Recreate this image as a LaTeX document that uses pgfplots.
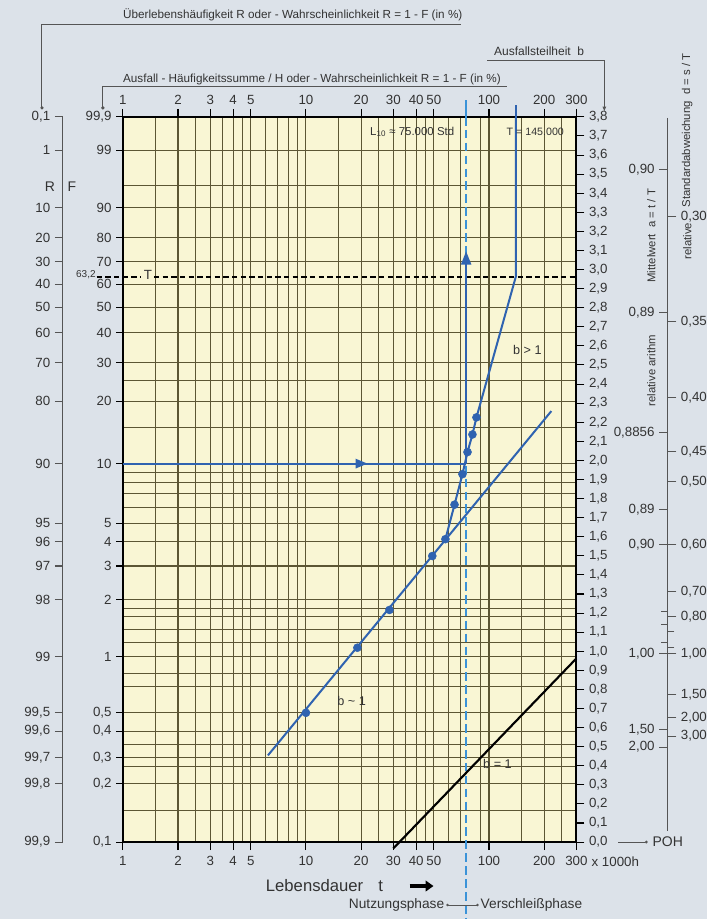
\documentclass[border=0pt]{standalone}
\usepackage{fontspec}
\setmainfont{Liberation Sans}
\usepackage{pgfplots}
\pgfplotsset{compat=1.18}
\usetikzlibrary{arrows.meta}
\definecolor{bgc}{HTML}{DCE2E9}
\definecolor{paper}{HTML}{F9F6D4}
\definecolor{gridc}{HTML}{5C5634}
\definecolor{blu}{HTML}{2F63B0}
\definecolor{lblu}{HTML}{3B93D8}
\definecolor{txt}{HTML}{333333}
\definecolor{linec}{HTML}{555555}
\newcommand\myfs[1]{\fontsize{#1}{#1}\selectfont}
\pgfplotsset{
  weib/.style={
    y coord trafo/.code={\pgfmathparse{ln(-ln(1-##1/100))}},
    y coord inv trafo/.code={\pgfmathparse{100*(1-exp(-exp(##1)))}},
  },
}
\begin{document}
\begin{tikzpicture}[x=0.75pt,y=0.75pt]
\fill[bgc] (0,0) rectangle (708,920);
% ---------------- main Weibull paper ----------------
\begin{axis}[
  at={(92.25pt,57.75pt)}, anchor=south west,
  scale only axis, width=340.5pt, height=544.5pt,
  xmode=log, xmin=1, xmax=300,
  weib, ymin=0.1, ymax=99.9,
  axis background/.style={fill=paper},
  clip=false,
  xtick={1,1.5,2,2.5,3,3.5,4,4.5,5,6,7,8,9,10,15,20,25,30,35,40,45,50,60,70,90,100,150,200,250,300},
  xticklabels={},
  ytick={0.1,0.15,0.2,0.25,0.3,0.35,0.4,0.5,0.7,0.8,1,1.2,1.4,1.6,1.8,2,3,4,5,6,7,8,9,10,15,20,25,30,40,50,60,70,80,90,95,99,99.9},
  yticklabels={},
  grid=major,
  major grid style={draw=gridc, line width=0.8pt},
  major tick length=0pt, minor tick length=0pt,
  ytick pos=left,
  extra x ticks={1,2,3,4,5,10,20,30,40,50,100,200,300},
  extra x tick labels={},
  extra x tick style={grid=none, major tick length=6pt, tick align=outside, tick style={draw=black, line width=0.8pt}},
  extra y ticks={0.1,0.2,0.3,0.4,0.5,1,2,3,4,5,10,20,30,40,50,60,70,80,90,99,99.9},
  extra y tick labels={{0,1},{0,2},{0,3},{0,4},{0,5},1,2,3,4,5,10,20,30,40,50,60,70,80,90,99,{99,9}},
  extra y tick style={grid=none, major tick length=5pt, tick align=outside, tick style={draw=black, line width=0.8pt}},
  axis line style={black, line width=1.6pt},
  tick label style={font=\myfs{10}, text=txt},
]
% characteristic life T (63,2 %)
\draw[black, line width=0.9pt, dash pattern=on 4pt off 2.5pt] (axis cs:0.72,63.2) -- (axis cs:1.26,63.2);
\draw[black, line width=0.9pt, dash pattern=on 4pt off 2.5pt] (axis cs:1.48,63.2) -- (axis cs:300,63.2);
% L10 line (dashed, light blue)
\draw[lblu, line width=2pt] (axis cs:75,99.9) -- ++(0pt,13pt);
\draw[lblu, line width=2pt, dash pattern=on 6.5pt off 3.2pt] (axis cs:75,99.9) -- ++(0pt,-602pt);
% b = 1 reference line
\addplot[black, line width=1.6pt] coordinates {(30,0.1) (300,1)};
% b ~ 1 fitted line and points
\addplot[blu, line width=1.5pt] coordinates {(6.2,0.31) (219,18)};
\addplot[blu, only marks, mark=*, mark size=3pt] coordinates {(10,0.52) (19.1,1.14) (28.6,1.79) (49,3.4) (57.8,4.15)};
% b > 1 branch
\addplot[blu, line width=1.5pt] coordinates {(57.8,4.15) (64.8,6.22) (71.6,8.86) (76.3,11.4) (81.2,13.9) (85.4,16.8) (140,63.2) (140,99.9)};
\addplot[blu, only marks, mark=*, mark size=3pt] coordinates {(64.8,6.22) (71.6,8.86) (76.3,11.4) (81.2,13.9) (85.4,16.8)};
\draw[blu, line width=1.5pt] (axis cs:140,99.9) -- ++(0pt,9pt);
% reading arrows F = 10 % -> L10
\addplot[blu, line width=1.5pt] coordinates {(1,10) (75,10)};
\addplot[blu, line width=1.5pt, -{Triangle[length=9pt,width=7pt]}] coordinates {(1,10) (21.7,10)};
\addplot[blu, line width=1.5pt, -{Triangle[length=10pt,width=7.5pt]}] coordinates {(75,10) (75,74.4)};
% x tick labels top and bottom
\pgfplotsinvokeforeach{1,2,3,4,5,10,20,30,40,50,100,200,300}{
  \node[font=\myfs{10}, text=txt, yshift=-14pt] at (axis cs:#1,0.1) {#1};
  \node[font=\myfs{10}, text=txt, yshift=13pt] at (axis cs:#1,99.9) {#1};
}
\end{axis}
% ---------------- Ausfallsteilheit b (right) ----------------
\begin{axis}[
  at={(92.25pt,57.75pt)}, anchor=south west,
  scale only axis, width=340.5pt, height=544.5pt,
  xmin=0, xmax=1, ymin=0, ymax=3.8,
  hide x axis, axis y line*=right,
  ytick={0,0.1,0.2,0.3,0.4,0.5,0.6,0.7,0.8,0.9,1,1.1,1.2,1.3,1.4,1.5,1.6,1.7,1.8,1.9,2,2.1,2.2,2.3,2.4,2.5,2.6,2.7,2.8,2.9,3,3.1,3.2,3.3,3.4,3.5,3.6,3.7,3.8},
  yticklabels={{0,0},{0,1},{0,2},{0,3},{0,4},{0,5},{0,6},{0,7},{0,8},{0,9},{1,0},{1,1},{1,2},{1,3},{1,4},{1,5},{1,6},{1,7},{1,8},{1,9},{2,0},{2,1},{2,2},{2,3},{2,4},{2,5},{2,6},{2,7},{2,8},{2,9},{3,0},{3,1},{3,2},{3,3},{3,4},{3,5},{3,6},{3,7},{3,8}},
  tick align=outside, major tick length=6pt,
  tick style={draw=black, line width=0.8pt},
  y axis line style={black, line width=1.6pt},
  tick label style={font=\myfs{10}, text=txt},
]
\addplot[draw=none] coordinates {(0.5,1)};
\end{axis}
% ---------------- R scale (left) ----------------
\begin{axis}[
  at={(47.25pt,57.75pt)}, anchor=south west,
  scale only axis, width=0.75pt, height=544.5pt,
  xmin=0, xmax=1, weib, ymin=0.1, ymax=99.9,
  hide x axis, axis y line*=left,
  ytick={0.1,0.2,0.3,0.4,0.5,1,2,3,4,5,10,20,30,40,50,60,70,80,90,99,99.9},
  yticklabels={{99,9},{99,8},{99,7},{99,6},{99,5},99,98,97,96,95,90,80,70,60,50,40,30,20,10,1,{0,1}},
  tick align=outside, major tick length=6pt,
  tick style={draw=linec, line width=0.8pt},
  y axis line style={draw=linec, line width=0.8pt},
  tick label style={font=\myfs{10}, text=txt},
]
\addplot[draw=none] coordinates {(0.5,50)};
\end{axis}
% ---------------- a = t/T scale ----------------
\begin{axis}[
  at={(501pt,66pt)}, anchor=south west,
  scale only axis, width=0.75pt, height=535.5pt,
  xmin=0, xmax=1, ymin=118, ymax=832, y dir=reverse,
  hide x axis, axis y line*=left,
  ytick={170,313,433,510,545,654,730,748},
  yticklabels={{0,90},{0,89},{0,8856},{0,89},{0,90},{1,00},{1,50},{2,00}},
  extra y ticks={612,625,643}, extra y tick labels={},
  extra y tick style={major tick length=4.5pt},
  tick align=outside, major tick length=6pt,
  tick style={draw=linec, line width=0.8pt},
  y axis line style={draw=linec, line width=0.8pt},
  tick label style={font=\myfs{10}, text=txt},
]
\addplot[draw=none] coordinates {(0.5,400)};
\end{axis}
% ---------------- d = s/T scale ----------------
\begin{axis}[
  at={(501pt,66pt)}, anchor=south west,
  scale only axis, width=0.75pt, height=535.5pt,
  xmin=0, xmax=1, ymin=118, ymax=832, y dir=reverse,
  hide x axis, axis y line*=right,
  ytick={217,322,398,452,482,545,592,617,654,695,718,737},
  yticklabels={{0,30},{0,35},{0,40},{0,45},{0,50},{0,60},{0,70},{0,80},{1,00},{1,50},{2,00},{3,00}},
  extra y ticks={632,648}, extra y tick labels={},
  extra y tick style={major tick length=4.5pt},
  tick align=outside, major tick length=6pt,
  tick style={draw=linec, line width=0.8pt},
  y axis line style={draw=none},
  tick label style={font=\myfs{10}, text=txt},
]
\addplot[draw=none] coordinates {(0.5,400)};
\end{axis}
% ---------------- annotations ----------------
\begin{scope}[every node/.style={text=txt, inner sep=0pt}]
% header brackets
\node[anchor=base west, font=\myfs{8.8}] at (123,901) {Überlebenshäufigkeit R oder - Wahrscheinlichkeit R = 1 - F (in \%)};
\draw[linec, line width=0.7pt] (42,812) -- (42,895) -- (462,895);
\fill[linec] (42,812) circle (1.8);
\node[anchor=base west, font=\myfs{8.8}] at (123,837) {Ausfall - Häufigkeitssumme / H oder - Wahrscheinlichkeit R = 1 - F (in \%)};
\draw[linec, line width=0.7pt] (103,812) -- (103,833) -- (508,833);
\fill[linec] (103,812) circle (1.8);
\node[anchor=base east, font=\myfs{9}] at (585,864) {Ausfallsteilheit\ \ b};
\draw[linec, line width=0.7pt, -{Latex[length=4pt,width=3pt]}] (488,859) -- (605,859) -- (605,808);
% left scale captions
\node[font=\myfs{10.5}] at (50,733) {R};
\node[font=\myfs{10.5}] at (72,733) {F};
\node[anchor=east, font=\myfs{7.5}] at (96,645) {63,2};
\node[font=\myfs{10}] at (148,645) {T};
% texts inside the paper
\node[anchor=east, font=\myfs{8.6}] at (455,788) {L\textsubscript{10} ≈ 75.000 Std};
\node[anchor=west, font=\myfs{8}] at (507,788) {T = 145.000};
\node[font=\myfs{9.5}] at (528,570) {b > 1};
\node[font=\myfs{9.5}] at (352,218) {b \textasciitilde{} 1};
\node[font=\myfs{9.5}] at (498,155) {b = 1};
% right scale captions
\node[rotate=90, font=\myfs{8.5}] at (652,684) {Mittelwert\ \ a = t / T};
\node[rotate=90, font=\myfs{8.5}] at (652,549) {relative arithm};
\node[rotate=90, anchor=east, font=\myfs{8.5}] at (688,697) {relative};
\node[rotate=90, anchor=west, font=\myfs{8.5}] at (688,712) {Standardabweichung\ \ d = s / T};
% POH
\draw[linec, line width=0.7pt] (619,77) -- (646,77);
\fill[linec] (647,77) circle (1.6);
\node[anchor=west, font=\myfs{10.5}] at (653,77) {POH};
% bottom
\node[anchor=west, font=\myfs{10}] at (592,57) {x 1000h};
\node[anchor=west, font=\myfs{12.5}] at (266,33) {Lebensdauer};
\node[font=\myfs{12.5}] at (381,33) {t};
\draw[black, line width=2.4pt, -{Triangle[length=6pt,width=8pt]}] (410,33) -- (434,33);
\node[anchor=east, font=\myfs{10.3}] at (445,14) {Nutzungsphase};
\draw[linec, line width=0.6pt] (448,14) -- (478,14);
\fill[linec] (448,14) circle (1.4);
\fill[linec] (478,14) circle (1.4);
\node[anchor=west, font=\myfs{10.3}] at (481,14) {Verschleißphase};
\end{scope}
\end{tikzpicture}
\end{document}
